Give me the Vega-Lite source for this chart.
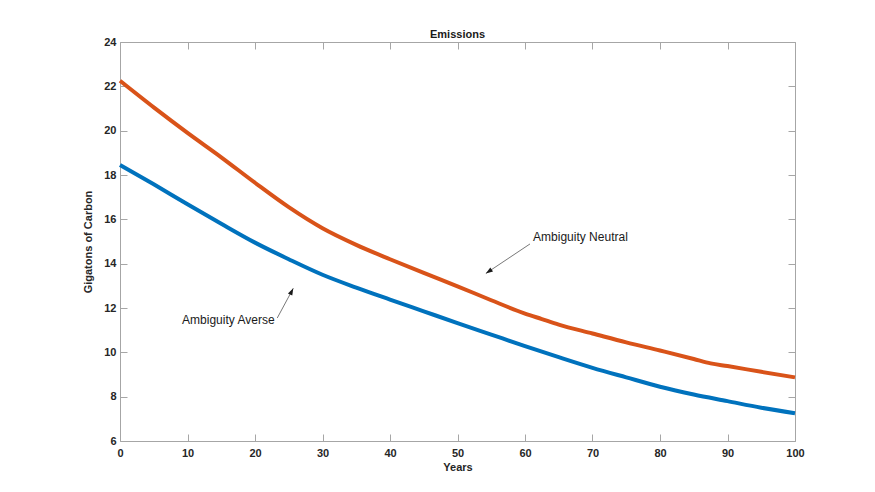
{
  "$schema": "https://vega.github.io/schema/vega-lite/v6.json",
  "autosize": "none",
  "width": 675,
  "height": 399,
  "padding": {"left": 120, "top": 42, "right": 80, "bottom": 51},
  "background": "white",
  "config": {
    "font": "Liberation Sans",
    "view": {"stroke": null},
    "axis": {
      "domainColor": "#a6a6a6",
      "tickColor": "#a6a6a6",
      "tickSize": -7,
      "labelFont": "Liberation Sans",
      "labelFontWeight": "bold",
      "labelFontSize": 11,
      "labelColor": "#262626",
      "titleFont": "Liberation Sans",
      "titleFontWeight": "bold",
      "titleFontSize": 11,
      "titleColor": "#262626",
      "grid": false
    }
  },
  "title": {
    "text": "Emissions",
    "font": "Liberation Sans",
    "fontSize": 11,
    "fontWeight": "bold",
    "color": "#1a1a1a",
    "offset": -4,
    "anchor": "middle"
  },
  "datasets": {
    "lines": [
      {"year": 0, "value": 22.25, "series": "Ambiguity Neutral"},
      {"year": 5, "value": 21.05, "series": "Ambiguity Neutral"},
      {"year": 10, "value": 19.9, "series": "Ambiguity Neutral"},
      {"year": 15, "value": 18.8, "series": "Ambiguity Neutral"},
      {"year": 20, "value": 17.65, "series": "Ambiguity Neutral"},
      {"year": 25, "value": 16.55, "series": "Ambiguity Neutral"},
      {"year": 30, "value": 15.6, "series": "Ambiguity Neutral"},
      {"year": 35, "value": 14.85, "series": "Ambiguity Neutral"},
      {"year": 40, "value": 14.2, "series": "Ambiguity Neutral"},
      {"year": 45, "value": 13.58, "series": "Ambiguity Neutral"},
      {"year": 50, "value": 12.98, "series": "Ambiguity Neutral"},
      {"year": 55, "value": 12.35, "series": "Ambiguity Neutral"},
      {"year": 60, "value": 11.75, "series": "Ambiguity Neutral"},
      {"year": 62.5, "value": 11.5, "series": "Ambiguity Neutral"},
      {"year": 65, "value": 11.25, "series": "Ambiguity Neutral"},
      {"year": 70, "value": 10.85, "series": "Ambiguity Neutral"},
      {"year": 75, "value": 10.45, "series": "Ambiguity Neutral"},
      {"year": 80, "value": 10.08, "series": "Ambiguity Neutral"},
      {"year": 85, "value": 9.7, "series": "Ambiguity Neutral"},
      {"year": 87.5, "value": 9.5, "series": "Ambiguity Neutral"},
      {"year": 90, "value": 9.38, "series": "Ambiguity Neutral"},
      {"year": 95, "value": 9.12, "series": "Ambiguity Neutral"},
      {"year": 100, "value": 8.87, "series": "Ambiguity Neutral"},
      {"year": 0, "value": 18.45, "series": "Ambiguity Averse"},
      {"year": 5, "value": 17.58, "series": "Ambiguity Averse"},
      {"year": 10, "value": 16.68, "series": "Ambiguity Averse"},
      {"year": 15, "value": 15.8, "series": "Ambiguity Averse"},
      {"year": 20, "value": 14.95, "series": "Ambiguity Averse"},
      {"year": 25, "value": 14.2, "series": "Ambiguity Averse"},
      {"year": 30, "value": 13.5, "series": "Ambiguity Averse"},
      {"year": 35, "value": 12.92, "series": "Ambiguity Averse"},
      {"year": 40, "value": 12.38, "series": "Ambiguity Averse"},
      {"year": 45, "value": 11.85, "series": "Ambiguity Averse"},
      {"year": 50, "value": 11.32, "series": "Ambiguity Averse"},
      {"year": 55, "value": 10.8, "series": "Ambiguity Averse"},
      {"year": 60, "value": 10.28, "series": "Ambiguity Averse"},
      {"year": 65, "value": 9.78, "series": "Ambiguity Averse"},
      {"year": 70, "value": 9.3, "series": "Ambiguity Averse"},
      {"year": 75, "value": 8.87, "series": "Ambiguity Averse"},
      {"year": 80, "value": 8.45, "series": "Ambiguity Averse"},
      {"year": 85, "value": 8.1, "series": "Ambiguity Averse"},
      {"year": 90, "value": 7.8, "series": "Ambiguity Averse"},
      {"year": 95, "value": 7.5, "series": "Ambiguity Averse"},
      {"year": 100, "value": 7.25, "series": "Ambiguity Averse"}
    ],
    "labels": [
      {"x": 9.2, "y": 11.46, "label": "Ambiguity Averse"},
      {"x": 61.2, "y": 15.21, "label": "Ambiguity Neutral"}
    ],
    "arrows": [
      {"name": "averse", "x": 23.3, "y": 11.55, "x2": 25.67, "y2": 12.89},
      {"name": "neutral", "x": 60.74, "y": 14.89, "x2": 54.2, "y2": 13.56}
    ]
  },
  "layer": [
    {
      "data": {"name": "lines"},
      "mark": {"type": "line", "strokeWidth": 4, "strokeCap": "butt", "interpolate": "monotone"},
      "encoding": {
        "x": {"field": "year", "type": "quantitative", "scale": {"domain": [0, 100], "nice": false},
          "axis": {"orient": "bottom", "title": "Years", "values": [0,10,20,30,40,50,60,70,80,90,100], "labelPadding": 13, "titlePadding": 3, "labelFlush": false}},
        "y": {"field": "value", "type": "quantitative", "scale": {"domain": [6, 24], "nice": false, "zero": false},
          "axis": {"orient": "left", "title": "Gigatons of Carbon", "values": [6,8,10,12,14,16,18,20,22,24], "labelPadding": 11, "titlePadding": 10, "labelFlush": false}},
        "color": {"field": "series", "type": "nominal", "legend": null,
          "scale": {"domain": ["Ambiguity Neutral", "Ambiguity Averse"], "range": ["#D95319", "#0072BD"]}},
        "detail": {"field": "series"}
      }
    },
    {
      "data": {"name": "lines"},
      "mark": {"type": "rule", "opacity": 0},
      "encoding": {
        "x": {"field": "year", "type": "quantitative",
          "axis": {"orient": "top", "title": null, "labels": false, "values": [0,10,20,30,40,50,60,70,80,90,100]}},
        "y": {"field": "value", "type": "quantitative",
          "axis": {"orient": "right", "title": null, "labels": false, "values": [6,8,10,12,14,16,18,20,22,24]}}
      }
    },
    {
      "data": {"name": "labels"},
      "mark": {"type": "text", "align": "left", "baseline": "middle", "fontSize": 12, "font": "Liberation Sans", "color": "#1a1a1a"},
      "encoding": {
        "x": {"field": "x", "type": "quantitative", "axis": null},
        "y": {"field": "y", "type": "quantitative", "axis": null},
        "text": {"field": "label"}
      }
    },
    {
      "data": {"name": "arrows"},
      "mark": {"type": "rule", "color": "#555555", "strokeWidth": 0.8},
      "encoding": {
        "x": {"field": "x", "type": "quantitative", "axis": null},
        "y": {"field": "y", "type": "quantitative", "axis": null},
        "x2": {"field": "x2"},
        "y2": {"field": "y2"}
      }
    },
    {
      "data": {"name": "arrows"},
      "transform": [{"filter": "datum.name === 'averse'"}],
      "mark": {"type": "point", "filled": true, "color": "#1a1a1a", "opacity": 1, "size": 49, "angle": 27, "shape": "M0,0L0.7,2L-0.7,2Z"},
      "encoding": {
        "x": {"field": "x2", "type": "quantitative", "axis": null},
        "y": {"field": "y2", "type": "quantitative", "axis": null}
      }
    },
    {
      "data": {"name": "arrows"},
      "transform": [{"filter": "datum.name === 'neutral'"}],
      "mark": {"type": "point", "filled": true, "color": "#1a1a1a", "opacity": 1, "size": 49, "angle": 236, "shape": "M0,0L0.7,2L-0.7,2Z"},
      "encoding": {
        "x": {"field": "x2", "type": "quantitative", "axis": null},
        "y": {"field": "y2", "type": "quantitative", "axis": null}
      }
    }
  ]
}
